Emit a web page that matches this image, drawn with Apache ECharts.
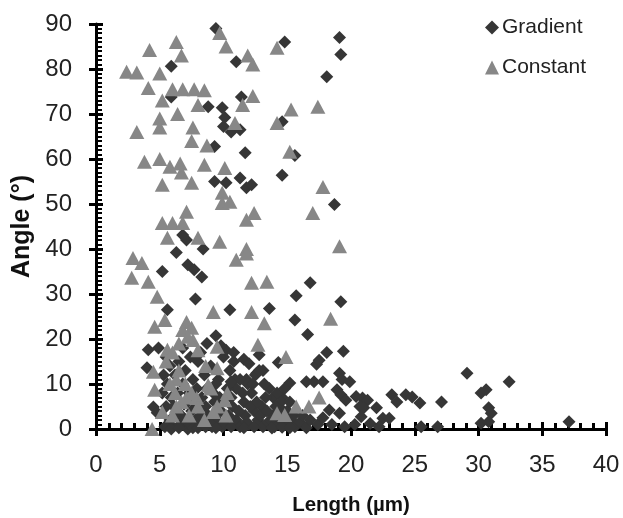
<!DOCTYPE html>
<html>
<head>
<meta charset="utf-8">
<script src="https://cdn.jsdelivr.net/npm/echarts@6/dist/echarts.min.js"></script>
<style>html,body{margin:0;padding:0;background:#fff}#c{width:623px;height:518px}</style>
</head>
<body>
<div id="c"></div>
<script>
var seriesNames = ["Gradient", "Constant"];
var xTicks = [0, 5, 10, 15, 20, 25, 30, 35, 40];
var yTicks = [0, 10, 20, 30, 40, 50, 60, 70, 80, 90];

var gradientData = [
  [9.4,89],[5.9,80.6],[11.0,81.6],[14.8,86],[19.1,87],[19.2,83.2],[18.1,78.3],[11.4,73.8],[5.9,73.8],
  [8.8,71.6],[9.9,71.4],[10.1,69.2],[10.0,67.2],[10.6,66],[11.3,66.5],[14.6,68.3],[9.3,62.8],[11.7,61.4],
  [15.6,60.8],[14.6,56.4],[9.3,55],[10.2,54.7],[11.3,55.8],[11.8,53.6],[12.2,54.3],[18.7,49.9],[6.8,43.1],
  [7.1,42],[6.3,39.2],[8.4,40],[7.2,36.5],[7.7,35.4],[8.3,33.8],[5.2,35],[7.8,28.9],[5.6,26.5],[10.5,26.5],
  [13.6,26.8],[16.8,32.5],[15.7,29.6],[19.2,28.3],[15.6,24.2],[16.6,21],[9.4,20.7],
  [4.1,17.6],[4.9,18],[4.0,13.6],[4.5,4.9],[4.8,3.6],[12.8,16.5],[14.3,14.8],[17.3,14.4],[17.5,15.3],
  [18.1,17],[19.4,17.3],[19.1,12.4],[19.3,11],[16.5,10.5],[17.1,10.5],[17.8,10.5],[18.9,8.7],[19.2,7.6],
  [19.6,6.4],[15.2,10.2],[13.9,7],[14.6,7],[18.3,4.2],[19.1,3.5],[12.6,12.4],[13.1,13],[11.8,11],
  [19.9,10.5],[20.4,7.2],[20.9,6.9],[21.3,6.4],[20.7,5],[21.0,4.7],[20.8,2.7],[22.0,4.7],[23.2,7.6],
  [23.6,6],[24.3,7.6],[24.8,7.1],[25.4,5.8],[22.5,2.4],[23.0,2.4],[25.5,0.5],[26.8,0.5],[27.1,6],
  [29.1,12.4],[32.4,10.5],[30.2,8],[30.6,8.7],[30.8,4.7],[31.0,3.5],[30.2,1.3],[30.8,1.6],[37.1,1.6],
  [5.5,16],[5.8,14],[6.2,12],[6.5,15],[6.8,10],[7.0,13],[7.3,8],[7.6,11],[8.0,15],[8.2,17],[8.5,12],
  [8.7,9],[9.0,14],[9.3,6],[9.6,11],[10.0,16],[10.2,17.5],[10.5,13],[10.8,15],[11.0,9],[11.3,11],
  [11.6,6],[11.9,10],[12.2,8],[12.5,12],[12.8,13],[13.0,5],[13.3,7],[13.6,9],[13.9,3],[14.2,8],[14.5,6],
  [14.8,9],[15.0,4],[15.3,2],[5.2,8],[5.5,5],[5.8,2],[6.0,0.5],[6.3,3],[6.6,1],[7.0,2],[7.2,0],[7.5,4],
  [7.8,2],[8.1,5],[8.4,1],[8.8,3],[9.1,0.5],[9.5,2],[9.8,4],[10.1,1],[10.4,3],[10.7,5],[11.0,2],[11.3,0.5],
  [11.7,3],[12.0,1],[12.4,4],[12.7,2],[13.1,0.5],[13.5,1.5],[14.0,0.5],[14.4,2],[14.9,1],[15.6,0.5],
  [16.0,1.5],[16.5,0.3],
  [5.3,12],[5.6,10],[5.9,7],[6.1,5],[6.4,8],[6.7,3],[6.9,5.5],[7.2,6],[7.4,1],[7.7,6],[7.9,9],[8.2,3],
  [8.3,7],[8.6,5],[8.9,1.5],[9.2,8],[9.4,10],[9.7,7],[9.9,0.5],[10.3,9],[10.6,7],[10.9,11],[11.2,4],
  [11.5,8],[11.8,1.5],[12.1,5],[12.3,10],[12.6,6],[12.9,3],[13.2,10],[13.4,4],[13.7,2],[14.1,5],[14.7,4],
  [15.2,6],[15.5,3],[5.4,0.5],[5.9,0],[6.5,0.3],[7.6,0.3],[8.0,0.3],[8.6,0.5],[9.4,0.3],[10.6,0.5],
  [11.6,0.3],[12.4,0.5],[13.8,0.2],[14.6,0.4],[15.2,0.3],[16.2,3],[16.8,2],[17.4,1],[17.8,2.5],[18.5,1],
  [19.5,0.5],[20.3,1],[21.5,1.2],[22.2,0.5],[10.8,17],[11.6,15.5],[9.8,18.5],[8.7,19],[7.4,16],[6.8,18],
  [12.0,14.5],[10.6,10.5]
];

var constantData = [
  [4.2,84.2],[6.3,86],[6.7,83],[2.4,79.4],[3.2,79.2],[5.0,79],[4.1,75.8],[6.0,75.5],[6.8,75.5],[7.7,75.5],
  [8.5,75.3],[5.2,73],[8.0,72],[6.4,70],[5.0,69],[5.0,67],[3.2,66],[7.6,67],[7.5,64],[8.7,63],[10.9,68],
  [12.3,74],[11.5,72],[9.7,88],[10.2,85],[11.9,83],[12.3,81],[14.2,84.7],[14.2,68],[15.3,71],[15.2,61.6],
  [3.8,59.4],[5.0,60],[5.8,58.3],[6.6,59],[6.7,57],[8.5,58.7],[10.1,58],[5.2,54.3],[7.5,54.7],[9.9,52.5],
  [9.9,50.2],[10.5,50.5],[12.4,48],[11.8,46.5],[17.0,48],[7.1,48.3],[5.2,45.8],[6.0,45.8],[6.8,45.8],
  [5.6,42.5],[8.0,42.5],[9.7,41.6],[11.8,40],[17.4,71.6],[17.8,53.8],[19.1,40.6],
  [2.9,38],[3.6,36.9],[2.8,33.6],[4.1,32.7],[4.8,29.4],[4.6,22.7],[5.4,24.2],[7.1,23.8],[7.5,22.5],
  [6.8,22],[9.2,26],[12.2,26],[11.0,37.6],[11.8,39],[12.2,32.5],[13.4,32.7],[13.2,23.5],[12.7,18.7],
  [14.9,16],[5.6,17.6],[6.0,17],[7.6,19.8],[9.5,18.3],[4.5,12.7],[4.6,8.7],[6.3,11],[6.2,8],[6.7,6],
  [7.1,7],[7.9,6.9],[8.8,9.8],[9.5,13.5],[9.2,3.8],[9.5,5],[10.3,8],[10.1,6.4],[5.2,3.8],[4.4,0],
  [14.2,3.5],[14.8,3.1],[15.7,5],[16.7,5],[6.3,5],[17.5,7],[18.4,24.5],
  [5.5,15],[6.5,13],[7.0,10],[7.5,8],[8.0,5],[6.0,3],[7.3,3],[8.5,2],[9.0,9],[10.2,3],[6.5,19],
  [7.2,20.5],[8.0,17.5],[8.6,14],[5.8,10]
];

var chart = echarts.init(document.getElementById('c'), null, {renderer: 'canvas'});
var FONT = '"Liberation Sans", Arial, sans-serif';
var baseX = {
  type: 'value', min: 0, max: 40, interval: 5, position: 'bottom',
  splitLine: {show: false}
};
var baseY = {
  type: 'value', min: 0, max: 90, interval: 10, position: 'left',
  splitLine: {show: false}
};
chart.setOption({
  animation: false,
  backgroundColor: '#fff',
  grid: {left: 96, right: 17, top: 24, bottom: 89, containLabel: false, outerBoundsMode: 'none'},
  legend: {
    orient: 'vertical', left: 480, top: 12, itemGap: 19,
    itemWidth: 14, itemHeight: 14,
    textStyle: {fontFamily: FONT, fontSize: 21, color: '#222', padding: [0,0,0,-2]},
    data: seriesNames
  },
  xAxis: [
    Object.assign({}, baseX, {
      name: 'Length (µm)', nameLocation: 'middle', nameGap: 66,
      nameTextStyle: {fontFamily: FONT, fontSize: 20.5, fontWeight: 'bold', color: '#111'},
      axisLine: {show: true, lineStyle: {color: '#000', width: 3}},
      axisTick: {show: true, inside: true, length: 7, lineStyle: {color: '#000', width: 3}},
      minorTick: {show: true, splitNumber: 5, length: 6, lineStyle: {color: '#000', width: 3}},
      axisLabel: {margin: 24, fontFamily: FONT, fontSize: 24, color: '#222',
        formatter: function (v) { return xTicks.indexOf(v) >= 0 ? String(v) : ''; }}
    }),
    Object.assign({}, baseX, {
      axisLine: {show: false},
      axisTick: {show: true, inside: false, length: 7, lineStyle: {color: '#000', width: 3}},
      axisLabel: {show: false}
    })
  ],
  yAxis: [
    Object.assign({}, baseY, {
      name: 'Angle (°)', nameLocation: 'middle', nameGap: 60, nameRotate: 90,
      nameTextStyle: {fontFamily: FONT, fontSize: 25, fontWeight: 'bold', color: '#111'},
      axisLine: {show: true, lineStyle: {color: '#000', width: 3}},
      axisTick: {show: true, inside: true, length: 7, lineStyle: {color: '#000', width: 3}},
      minorTick: {show: true, splitNumber: 10, length: 6, lineStyle: {color: '#000', width: 2}},
      axisLabel: {margin: 24, fontFamily: FONT, fontSize: 24, color: '#222',
        formatter: function (v) { return yTicks.indexOf(v) >= 0 ? String(v) : ''; }}
    }),
    Object.assign({}, baseY, {
      axisLine: {show: false},
      axisTick: {show: true, inside: false, length: 7, lineStyle: {color: '#000', width: 3}},
      axisLabel: {show: false}
    })
  ],
  series: [
    {
      name: seriesNames[0], type: 'scatter', symbol: 'diamond', symbolSize: 13,
      xAxisIndex: 0, yAxisIndex: 0,
      itemStyle: {color: '#363636', opacity: 1},
      data: gradientData
    },
    {
      name: seriesNames[1], type: 'scatter', symbol: 'triangle', symbolSize: [15, 14],
      xAxisIndex: 0, yAxisIndex: 0,
      itemStyle: {color: '#878787', opacity: 1},
      data: constantData
    }
  ]
});
</script>
</body>
</html>
